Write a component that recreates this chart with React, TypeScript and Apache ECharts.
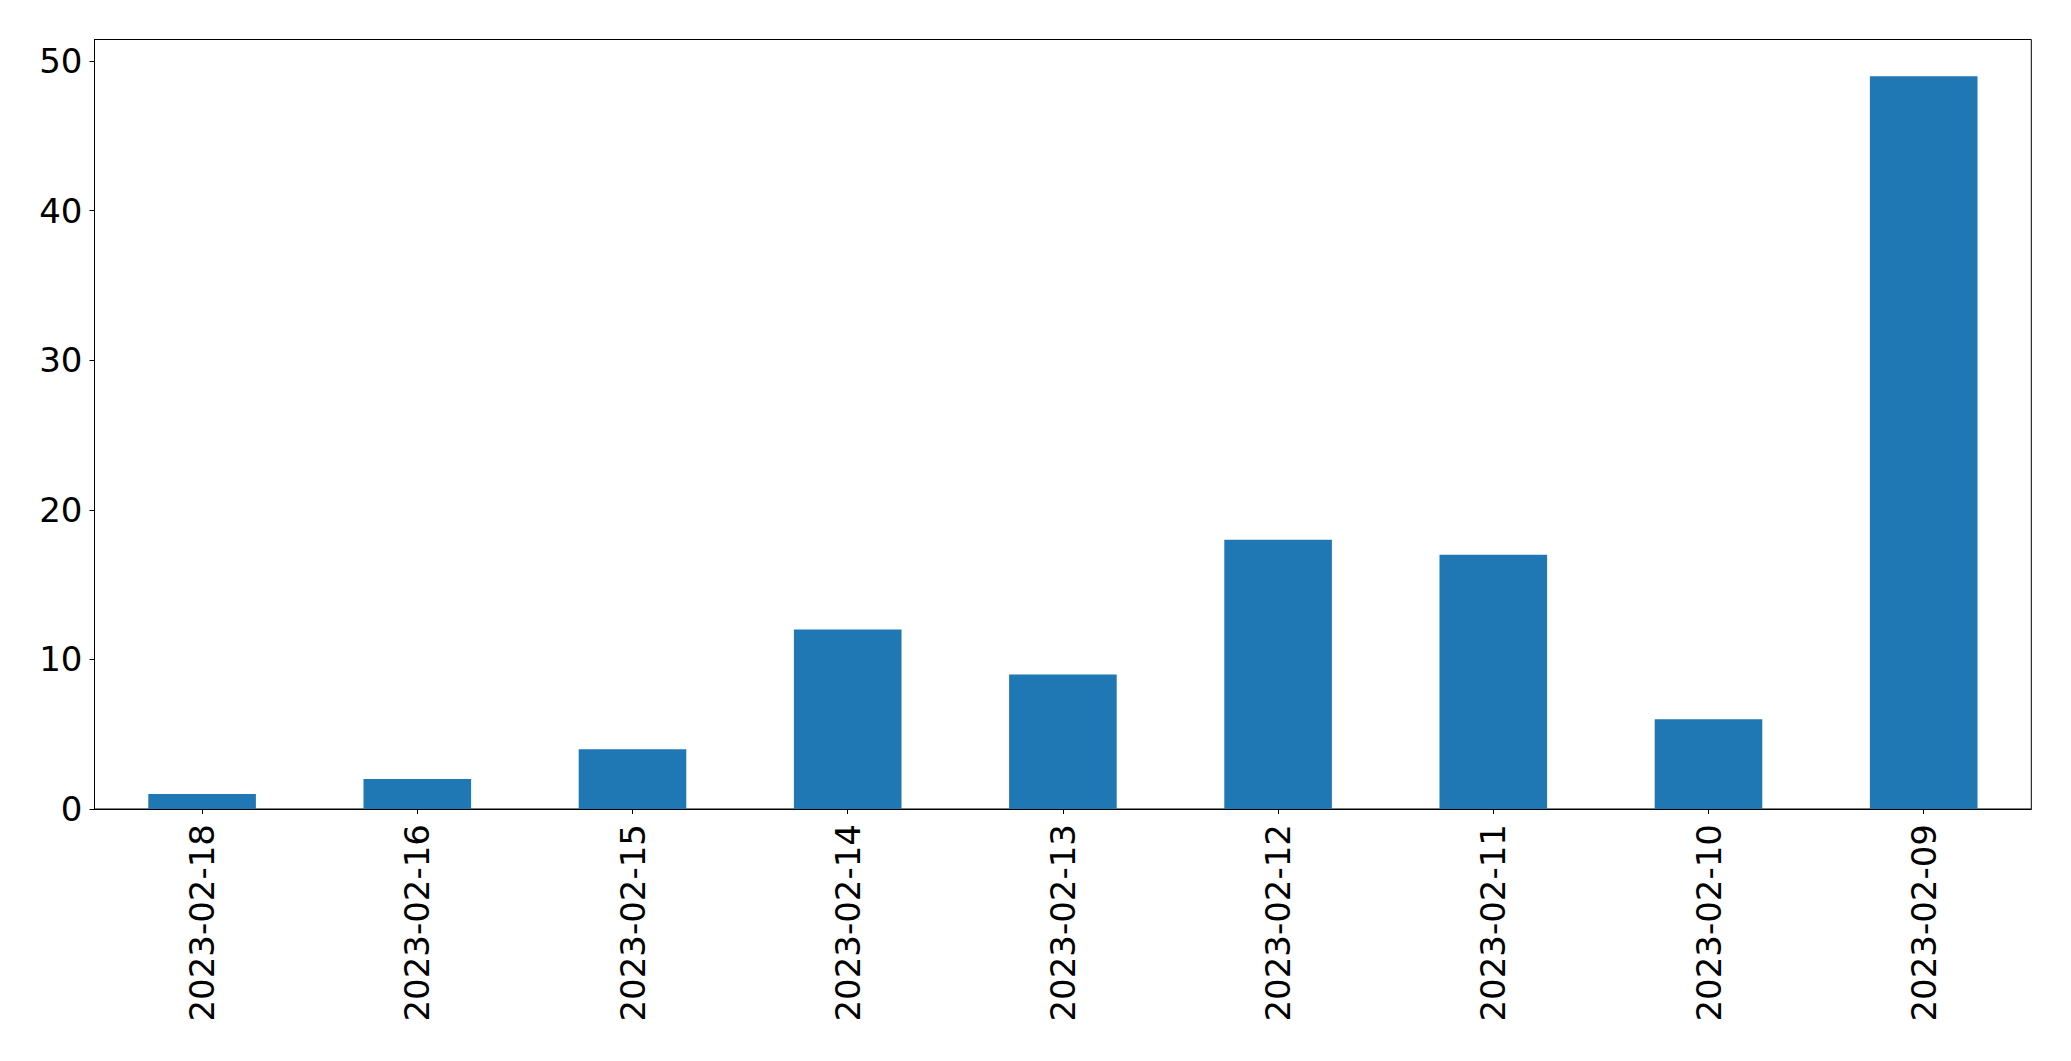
import React, { useEffect, useRef } from "react";
import * as echarts from "echarts";

const categories = ["2023-02-18", "2023-02-16", "2023-02-15", "2023-02-14", "2023-02-13", "2023-02-12", "2023-02-11", "2023-02-10", "2023-02-09"];
const values = [1, 2, 4, 12, 9, 18, 17, 6, 49];
const yTicks = [0, 10, 20, 30, 40, 50];
const yMax = 51.45;

export default function App() {
  const ref = useRef<HTMLDivElement>(null);
  useEffect(() => {
    if (!ref.current) return;
    const chart = echarts.init(ref.current, null, { renderer: "svg" });
    const font = "DejaVu Sans";
    chart.setOption({
      animation: false,
      backgroundColor: "#ffffff",
      grid: {
        left: 94.5,
        right: 39.7,
        top: 39.5,
        bottom: 252,
        show: true,
        borderColor: "#000000",
        borderWidth: 1,
        backgroundColor: "transparent",
      },
      xAxis: {
        type: "category",
        data: categories,
        boundaryGap: true,
        axisLine: { show: true, lineStyle: { color: "#000000", width: 1 } },
        axisTick: { show: true, alignWithLabel: true, length: 5, lineStyle: { color: "#000000", width: 1 } },
        axisLabel: { rotate: 90, margin: 15, color: "#000000", fontSize: 34, fontFamily: font, interval: 0 },
        splitLine: { show: false },
      },
      yAxis: {
        type: "value",
        min: 0,
        max: yMax,
        interval: 10,
        axisLine: { show: true, lineStyle: { color: "#000000", width: 1 } },
        axisTick: { show: true, length: 5, customValues: yTicks, lineStyle: { color: "#000000", width: 1 } },
        axisLabel: { margin: 12, color: "#000000", fontSize: 34, fontFamily: font, customValues: yTicks },
        splitLine: { show: false },
      },
      series: [
        {
          type: "bar",
          data: values,
          barWidth: "50%",
          itemStyle: { color: "#1f77b4" },
        },
      ],
    });
    return () => chart.dispose();
  }, []);
  return <div ref={ref} style={{ position: "fixed", left: 0, top: 0, width: 2071, height: 1061 }} />;
}
